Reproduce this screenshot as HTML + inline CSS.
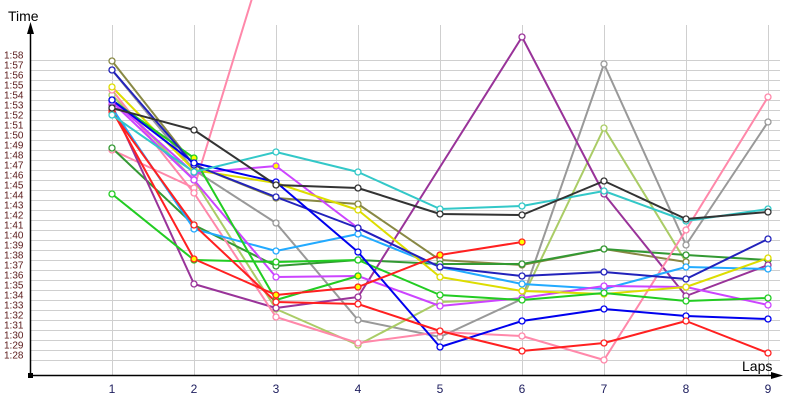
<!DOCTYPE html>
<html><head><meta charset="utf-8"><style>
html,body{margin:0;padding:0;background:#fff;}
svg{display:block;font-family:"Liberation Sans",sans-serif;}
</style></head><body>
<svg id="c" width="800" height="400" xmlns="http://www.w3.org/2000/svg">
<rect width="800" height="400" fill="#fff"/>
<g id="grid" stroke="#cfcfcf" stroke-width="1"></g>
<g id="ylab" font-size="10" fill="#5a1a1a"></g>
<g id="series" fill="none" stroke-width="2" stroke-linejoin="round"></g>
<g id="marks" stroke-width="1.3"></g>
<line x1="30.5" y1="30" x2="30.5" y2="375" stroke="#000" stroke-width="1.5"/>
<line x1="30" y1="375.5" x2="775" y2="375.5" stroke="#000" stroke-width="1.5"/>
<polygon points="30.5,22 27,34 34,34" fill="#000"/>
<polygon points="783,375.5 771,372 771,379" fill="#000"/>
<rect x="28" y="373" width="5" height="5" fill="#000"/>
<text x="8" y="21" font-size="14" fill="#000">Time</text>
<text x="742" y="371" font-size="14" fill="#000">Laps</text>
<g id="xlab" font-size="12" fill="#202060" text-anchor="middle"></g>
</svg>
<script>
var NS="http://www.w3.org/2000/svg";
function el(t,a,p){var e=document.createElementNS(NS,t);for(var k in a)e.setAttribute(k,a[k]);p.appendChild(e);return e;}
var X=[112,194,276,358,440,522,604,686,768];
var g=document.getElementById('grid'),yl=document.getElementById('ylab'),xl=document.getElementById('xlab');
for(var i=0;i<=30;i++){var y=60+i*10+0.5;el('line',{x1:30,y1:y,x2:780,y2:y},g);
var t=el('text',{x:4,y:y-2},yl);t.textContent='1:'+(58-i);}
X.forEach(function(x,i){el('line',{x1:x+0.5,y1:25,x2:x+0.5,y2:375},g);var t=el('text',{x:x,y:393},xl);t.textContent=i+1;});
var S=[
["#ff88aa",[150,188,-80],0],
["#999999",[70,170,223,320,337,299,64,245,122],0],
["#aacc66",[95,180,309,345,302,299,128,262],0],
["#888844",[61,165,198,204,260,265,249,262],0],
["#339933",[148,225,266,260,264,264,249,255,260],0],
["#993399",[105,284,308,297,-167,37,194,296,265],0],
["#ff88aa",[90,193,317,343,332,336,360,230,97],0],
["#22aaff",[108,229,251,234,267,284,289,267,269],0],
["#cc44ff",[100,173,166,228,267],1],
["#cc44ff",[102,180,277,276,306,298,286,287,305],0],
["#dddd00",[87,170,183,210,277,291,294,287,258],0],
["#22cc22",[194,260,262,260,295,300,293,301,298],0],
["#22cc22",[100,158,300,276],1],
["#2222bb",[70,165,197,228,267,276,272,279,239],0],
["#0000ee",[100,163,182,252,347,321,309,316,319],0],
["#ff2020",[112,225,302,304,331,351,343,321,353],0],
["#ff2020",[110,259,295,287,255,242],1],
["#33c8c8",[115,172,152,172,209,206,191,221,209],0],
["#333333",[108,130,185,188,214,215,181,219,212],0]
];
var sg=document.getElementById('series'),mg=document.getElementById('marks');
S.forEach(function(s){var pts=s[1].map(function(v,i){return X[i]+','+(v<-100?-v:v);}).join(' ');
el('polyline',{points:pts,stroke:s[0]},sg);
s[1].forEach(function(v,i){if(v>0)el('circle',{cx:X[i],cy:v,r:3,fill:s[2]?'#ffff00':'#fff',stroke:s[0]},mg);});});
</script>
</body></html>
